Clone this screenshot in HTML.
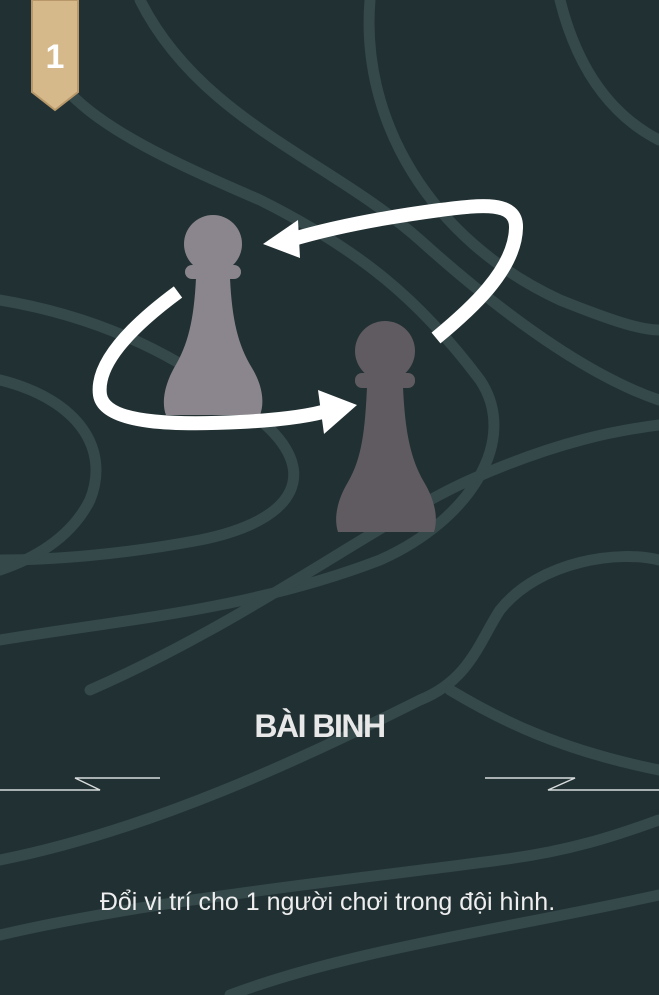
<!DOCTYPE html>
<html><head><meta charset="utf-8"><style>
html,body{margin:0;padding:0;background:#213033;}
#card{position:relative;width:659px;height:995px;overflow:hidden;background:#213033;font-family:"Liberation Sans","Noto Sans CJK SC",sans-serif;}
svg{position:absolute;left:0;top:0}
#title{position:absolute;left:-10px;width:659px;top:708px;text-align:center;color:#e8e8e8;font-weight:bold;font-size:32px;letter-spacing:-1.5px}
#desc{position:absolute;left:-2px;width:659px;top:888px;text-align:center;color:#eeeeee;font-size:25px;letter-spacing:0px}
</style></head><body>
<div id="card">
<svg width="659" height="995">
 <g fill="none" stroke="#35484a" stroke-width="11" stroke-linecap="round">
  <path d="M140,0 C200,120 330,160 420,240 C520,330 600,380 659,400"/>
  <path d="M40,0 C20,90 120,140 260,200 C360,250 420,300 480,380 C520,440 470,520 380,560 C250,610 120,620 0,640"/>
  <path d="M370,0 C360,120 430,240 560,300 C610,320 640,330 659,330"/>
  <path d="M560,0 C580,80 620,120 659,140"/>
  <path d="M0,300 C120,320 200,370 260,420 C320,470 300,520 200,540 C120,555 50,560 0,560"/>
  <path d="M0,380 C80,400 110,450 90,500 C70,540 30,560 0,570"/>
  <path d="M90,690 C250,620 380,520 470,480 C560,440 620,430 659,425"/>
  <path d="M0,860 C150,830 300,760 420,700 C470,680 480,640 500,610 C540,560 620,550 659,560"/>
  <path d="M450,690 C500,720 560,750 659,770"/>
  <path d="M0,935 C150,900 350,880 500,860 C580,850 630,830 659,820"/>
  <path d="M230,995 C350,950 500,930 659,895"/>
 </g>
 <g>
  <path d="M32,0 H78 V92 L55,110 L32,92 Z" fill="#d6b98b" stroke="#b89868" stroke-width="2"/>
  <text x="55" y="68" text-anchor="middle" fill="#ffffff" font-family="Liberation Sans" font-weight="bold" font-size="34">1</text>
 </g>
 <g fill="#8b868d">
  <circle cx="213" cy="244" r="29"/>
  <rect x="185" y="265" width="56" height="14" rx="7"/>
  <path d="M196,278 H230 C232,320 238,345 252,368 C264,388 264,405 260,415 H166 C162,405 163,388 174,368 C188,345 194,320 196,278 Z"/>
 </g>
 <g fill="#5f5b61">
  <circle cx="385" cy="351" r="30"/>
  <rect x="355" y="373" width="60" height="15" rx="7"/>
  <path d="M367,387 H403 C405,430 410,458 424,482 C436,502 438,520 434,532 H338 C334,520 336,502 348,482 C362,458 365,430 367,387 Z"/>
 </g>
 <g stroke="#ffffff" stroke-width="14" fill="none" stroke-linecap="butt">
  <path d="M436,338 C470,310 515,270 516,228 C517,200 480,205 440,210 C380,218 330,228 290,240"/>
  <path d="M263,244 L298,220 L300,258 Z" fill="#ffffff" stroke="none"/>
  <path d="M178,292 C140,320 95,360 100,395 C105,425 180,425 240,422 C280,420 310,416 330,410"/>
  <path d="M357,405 L318,390 L324,434 Z" fill="#ffffff" stroke="none"/>
 </g>
 <g stroke="#d8dcdc" stroke-width="1.5" fill="none">
  <path d="M0,790 H100 L75,778 H160"/>
  <path d="M659,790 H548 L575,778 H485"/>
 </g>
</svg>
<div id="title">BÀI BINH</div>
<div id="desc">Đổi vị trí cho 1 người chơi trong đội hình.</div>
</div>
</body></html>
